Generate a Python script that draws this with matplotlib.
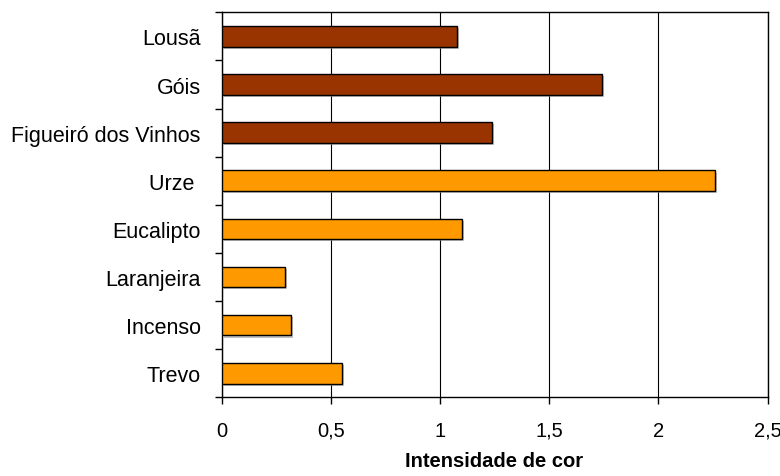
import matplotlib
matplotlib.use("Agg")
import matplotlib.pyplot as plt
import matplotlib.patheffects as pe
import numpy as np

plt.rcParams["font.family"] = ["Liberation Sans", "DejaVu Sans"]

# top to bottom as shown
categories = ["Lousã", "Góis", "Figueiró dos Vinhos", "Urze ", "Eucalipto",
              "Laranjeira", "Incenso", "Trevo"]
values = [1.08, 1.74, 1.24, 2.26, 1.10, 0.29, 0.32, 0.55]
groups = ["mel", "mel", "mel", "flor", "flor", "flor", "flor", "flor"]
group_colors = {"mel": "#993300", "flor": "#FF9900"}
xticks = [0, 0.5, 1, 1.5, 2, 2.5]
xticklabels = ["0", "0,5", "1", "1,5", "2", "2,5"]

fig = plt.figure(figsize=(7.8, 4.77), dpi=100)
ax = fig.add_axes([0.284, 0.165, 0.700, 0.807])

n = len(categories)
ypos = np.arange(n)[::-1]
colors = [group_colors[g] for g in groups]
bars = ax.barh(ypos, values, height=0.43, color=colors, edgecolor="black",
               linewidth=1.0, zorder=3)
for b in bars:
    b.set_path_effects([pe.SimplePatchShadow(offset=(1.5, -1.5),
                                             shadow_rgbFace="#999999", alpha=0.6),
                        pe.Normal()])

ax.set_xlim(0, 2.5)
ax.set_ylim(-0.5, n - 0.5)
ax.set_xticks(xticks)
ax.set_xticklabels(xticklabels, fontsize=14.5)
ax.xaxis.grid(True, color="black", linewidth=0.8, zorder=0)
ax.set_axisbelow(True)

# category labels centred, tick marks on category boundaries
ax.set_yticks(ypos)
ax.set_yticklabels(categories, fontsize=15.5)
ax.tick_params(axis="y", which="major", length=0, pad=15)
ax.set_yticks(np.arange(n + 1) - 0.5, minor=True)
ax.tick_params(axis="y", which="minor", length=5, width=1, direction="out")
ax.tick_params(axis="x", length=5, width=1, direction="out", pad=12)

for s in ax.spines.values():
    s.set_color("black")
    s.set_linewidth(1.0)

ax.set_xlabel("Intensidade de cor", fontsize=14.5, fontweight="bold", labelpad=8)

fig.savefig("out.png", dpi=100)
